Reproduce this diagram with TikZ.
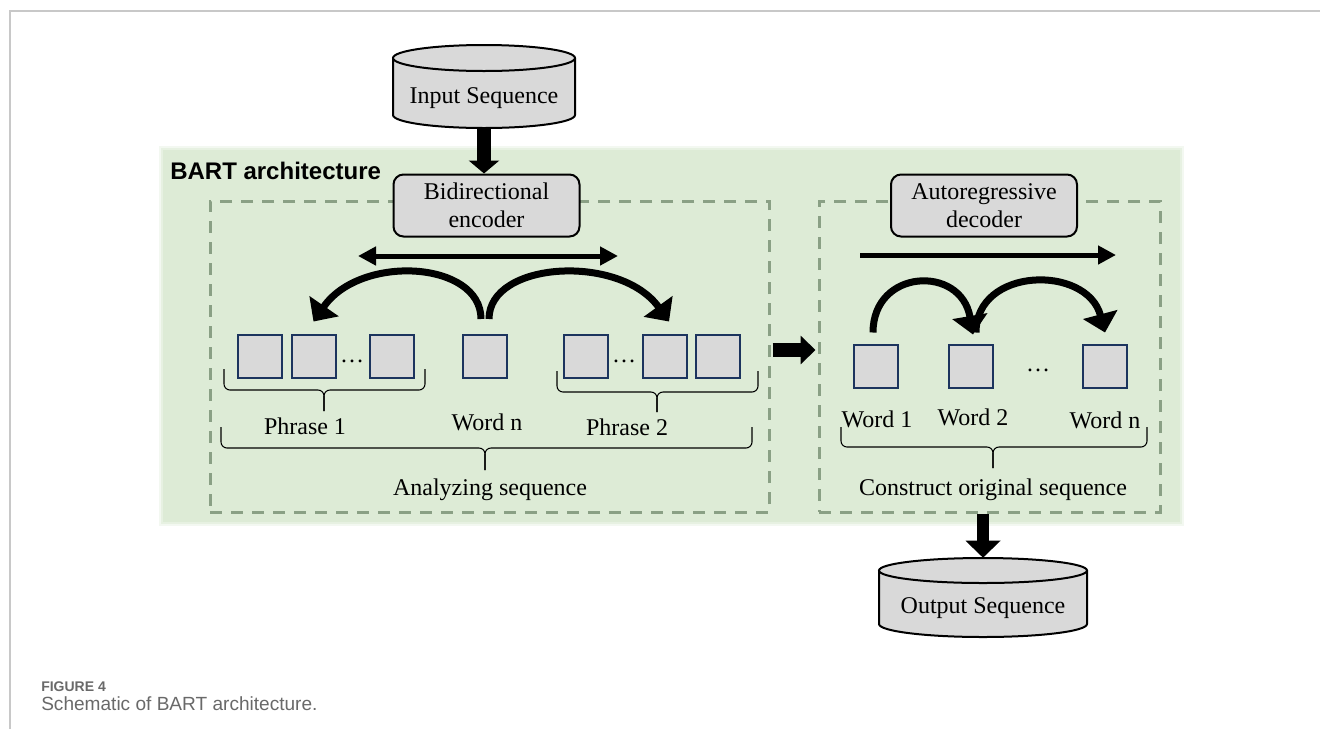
\documentclass[tikz,border=0pt]{standalone}
\usepackage{fontspec}
\setmainfont{Liberation Serif}
\newfontfamily\labelsans{Liberation Sans}
\usetikzlibrary{arrows.meta,calc}
\definecolor{bggreen}{RGB}{221,235,214}
\definecolor{dashgreen}{RGB}{138,160,133}
\definecolor{boxgray}{RGB}{217,217,217}
\definecolor{boxnavy}{RGB}{28,52,94}
\definecolor{framegray}{RGB}{200,200,200}
\definecolor{capgray}{RGB}{105,105,105}

\begin{document}
\begin{tikzpicture}[x=0.75pt,y=-0.75pt,
  txt/.style={font=\fontsize{18}{21}\selectfont, inner sep=0pt},
  wbox/.style={draw=boxnavy, fill=boxgray, line width=1.5pt,
    minimum width=33pt, minimum height=32.25pt, inner sep=0pt},
  codebox/.style={draw=black, fill=boxgray, line width=1.5pt, rounded corners=7.5pt,
    minimum width=139.5pt, minimum height=46.5pt, inner sep=0pt, align=center,
    font=\fontsize{18}{21}\selectfont},
  dashbox/.style={draw=dashgreen, line width=2.25pt, dash pattern=on 9pt off 6.75pt,
    inner sep=0pt, minimum height=233.25pt},
  cylbox/.style={inner sep=0pt},
  cylfill/.style={fill=boxgray},
  cylline/.style={draw=black, line width=1.5pt},
  vfat/.style={line width=10.5pt, -{Triangle[length=9.75pt,width=22.5pt]}},
  vfatout/.style={line width=9pt, -{Triangle[length=12.75pt,width=25.5pt]}},
  hfat/.style={line width=10.5pt, -{Triangle[length=11.25pt,width=21pt]}},
  flowarrow/.style={line width=3.75pt, -{Triangle[length=13.5pt,width=13.5pt]}},
  flowboth/.style={line width=3.75pt, {Triangle[length=13.5pt,width=13.5pt]}-{Triangle[length=13.5pt,width=13.5pt]}},
  curvarrow/.style={line width=5.25pt, -{Triangle[length=14pt,width=26pt]}},
  bracepath/.style={draw=black, line width=0.8pt, rounded corners=4.5pt},
]
\useasboundingbox (0,0) rectangle (1320,729);

% page frame
\draw[framegray, line width=1.1pt] (10,729) -- (10,11) -- (1320,11);

% green panel with soft edge
\fill[bggreen!35] (159,146) rectangle (1184,526);
\fill[bggreen!70] (161,148) rectangle (1182,524);
\fill[bggreen] (163,150) rectangle (1180,522);

\node[anchor=base west, inner sep=0pt, font=\labelsans\bfseries\fontsize{18}{21}\selectfont]
  (title) at (170,179) {BART architecture};

% dashed groups
\node[dashbox, minimum width=419.25pt] (encgrp) at (489.5,356.5) {};
\node[dashbox, minimum width=255.75pt] (decgrp) at (989.5,356.5) {};

% encoder / decoder boxes
\node[codebox] (enc) at (486.5,205.5) {Bidirectional\\encoder};
\node[codebox] (dec) at (984,205.5) {Autoregressive\\decoder};

% input cylinder
\node[cylbox, minimum width=136.5pt, minimum height=62.25pt] (incyl) at (484,86.5) {};
\path[cylfill] (393,58) -- (393,115) arc[start angle=180, end angle=360, x radius=68.25pt, y radius=9.75pt] -- (575,58) -- cycle;
\draw[cylline] (393,58) -- (393,115) arc[start angle=180, end angle=360, x radius=68.25pt, y radius=9.75pt] -- (575,58);
\filldraw[cylline, cylfill] (484,58) ellipse[x radius=68.25pt, y radius=9.75pt];
\node[txt, anchor=base] (intext) at (484,103) {Input Sequence};

% output cylinder
\node[cylbox, minimum width=156pt, minimum height=59.25pt] (outcyl) at (983,597.5) {};
\path[cylfill] (879,570.5) -- (879,624) arc[start angle=180, end angle=360, x radius=78pt, y radius=9.75pt] -- (1087,570.5) -- cycle;
\draw[cylline] (879,570.5) -- (879,624) arc[start angle=180, end angle=360, x radius=78pt, y radius=9.75pt] -- (1087,570.5);
\filldraw[cylline, cylfill] (983,570.5) ellipse[x radius=78pt, y radius=9.375pt];
\node[txt, anchor=base] (outtext) at (983,613) {Output Sequence};

% encoder side tokens
\node[wbox] (p11) at (259.5,356) {};
\node[wbox] (p12) at (313.5,356) {};
\node[txt] (p1dots) at (352,361) {\dots};
\node[wbox] (p13) at (391.5,356) {};
\node[wbox] (wn) at (484.5,356.5) {};
\node[wbox] (p21) at (585.5,356) {};
\node[txt] (p2dots) at (624,361) {\dots};
\node[wbox] (p22) at (664.5,356) {};
\node[wbox] (p23) at (718,356) {};

% decoder side tokens
\node[wbox] (d1) at (876,366) {};
\node[wbox] (d2) at (971,366) {};
\node[txt] (ddots) at (1038,370) {\dots};
\node[wbox] (d3) at (1104.5,366) {};

% labels
\node[txt, anchor=base] (lp1) at (305,434) {Phrase 1};
\node[txt, anchor=base] (lwn) at (487,430) {Word n};
\node[txt, anchor=base] (lp2) at (627,435) {Phrase 2};
\node[txt, anchor=base] (lana) at (490,495) {Analyzing sequence};
\node[txt, anchor=base] (lw1) at (877,427) {Word 1};
\node[txt, anchor=base] (lw2) at (973,425) {Word 2};
\node[txt, anchor=base] (lwd) at (1105,428) {Word n};
\node[txt, anchor=base] (lcon) at (993,495) {Construct original sequence};

% braces
\draw[bracepath] (224,369) -- (224,390) -- (324,390) -- (324,411);
\draw[bracepath] (425,369) -- (425,390) -- (324,390) -- (324,411);
\draw[bracepath] (557,371) -- (557,392) -- (657,392) -- (657,412);
\draw[bracepath] (758,371) -- (758,392) -- (657,392) -- (657,412);
\draw[bracepath] (221,427) -- (221,448) -- (485,448) -- (485,470);
\draw[bracepath] (752,427) -- (752,448) -- (485,448) -- (485,470);
\draw[bracepath] (841,427) -- (841,447) -- (993,447) -- (993,468);
\draw[bracepath] (1147,427) -- (1147,447) -- (993,447) -- (993,468);

% flow arrows
\coordinate (encl) at (358,256);
\coordinate (encr) at (618,256);
\draw[flowboth] (encl) -- (encr);
\coordinate (decl) at (860,255);
\coordinate (decr) at (1116,255);
\draw[flowarrow] (decl) -- (decr);

% attention arcs, encoder
\draw[curvarrow] ($(wn.north)+(-3.5,-15)$) .. controls +(0,-58) and +(47,-68) .. ($(p12.north)+(0,-12)$);
\draw[curvarrow] ($(wn.north)+(4.5,-15)$) .. controls +(0,-58) and +(-49,-68) .. ($(p22.north)+(4.5,-12)$);

% autoregressive arcs, decoder
\draw[curvarrow] ($(d1.north)+(-3,-11)$) .. controls +(0,-64) and +(-12,-70) .. ($(d2.north)+(2,-9)$);
\draw[curvarrow] ($(d2.north)+(5,-11)$) .. controls +(0,-66) and +(-18,-68) .. ($(d3.north)+(0.5,-11)$);

% data flow
\draw[vfat] (incyl.south) -- (incyl.south |- enc.north);
\draw[hfat] ($(encgrp.east)+(2,-6.5)$) -- ($(decgrp.west)+(-2,-6.5)$);
\draw[vfatout] (decgrp.south -| outcyl.north) -- (outcyl.north);

% caption
\node[anchor=base west, inner sep=0pt, text=capgray, font=\labelsans\bfseries\fontsize{10.5}{12}\selectfont]
  (fignum) at (41,691) {FIGURE 4};
\node[anchor=base west, inner sep=0pt, text=capgray, font=\labelsans\fontsize{14.3}{17}\selectfont]
  (figcap) at (41,710) {Schematic of BART architecture.};
\end{tikzpicture}
\end{document}
